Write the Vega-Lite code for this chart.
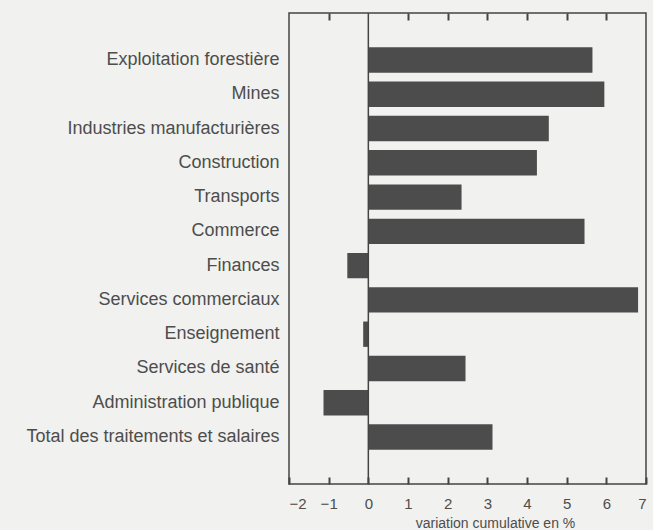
{
  "$schema": "https://vega.github.io/schema/vega-lite/v6.json",
  "width": 357,
  "height": 471,
  "autosize": {"type": "none"},
  "padding": {"left": 289, "top": 13, "right": 7, "bottom": 46},
  "background": "#f1f1ef",
  "config": {
    "view": {"stroke": "#444444", "strokeWidth": 1.5},
    "font": "Liberation Sans",
    "axis": {"labelColor": "#4d4d4d", "titleColor": "#4d4d4d", "grid": false, "domain": false}
  },
  "data": {
    "values": [
      {"secteur": "Exploitation forestière", "variation": 5.65},
      {"secteur": "Mines", "variation": 5.95},
      {"secteur": "Industries manufacturières", "variation": 4.55},
      {"secteur": "Construction", "variation": 4.25},
      {"secteur": "Transports", "variation": 2.35},
      {"secteur": "Commerce", "variation": 5.45},
      {"secteur": "Finances", "variation": -0.53},
      {"secteur": "Services commerciaux", "variation": 6.8},
      {"secteur": "Enseignement", "variation": -0.13},
      {"secteur": "Services de santé", "variation": 2.45},
      {"secteur": "Administration publique", "variation": -1.13},
      {"secteur": "Total des traitements et salaires", "variation": 3.13}
    ]
  },
  "resolve": {"axis": {"x": "independent"}},
  "layer": [
    {
      "mark": {"type": "bar", "color": "#4c4c4c"},
      "encoding": {
        "y": {
          "field": "secteur", "type": "nominal", "sort": null,
          "scale": {"paddingInner": 0.26, "paddingOuter": 1.14},
          "axis": {"title": null, "ticks": false, "labelPadding": 10, "labelLimit": 400, "labelFontSize": 18}
        },
        "x": {
          "field": "variation", "type": "quantitative",
          "scale": {"domain": [-2, 7], "nice": false, "zero": false},
          "axis": {
            "orient": "bottom", "zindex": 2, "offset": -7, "ticks": true,
            "values": [-2, -1, 0, 1, 2, 3, 4, 5, 6, 7],
            "tickSize": 7, "tickColor": "#444444", "tickWidth": 2,
            "labelPadding": 12, "labelFontSize": 15,
            "title": "variation cumulative en %", "titleFontSize": 14, "titleFontWeight": "normal",
            "titleX": 206, "titleY": 50, "titleBaseline": "alphabetic", "titleAnchor": "middle", "titleAlign": "center"
          }
        }
      }
    },
    {
      "mark": {"type": "rule", "color": "#444444", "strokeWidth": 1.5},
      "data": {"values": [{"zero": 0}]},
      "encoding": {
        "x": {
          "field": "zero", "type": "quantitative",
          "axis": {
            "orient": "top", "zindex": 2, "offset": -7, "ticks": true,
            "values": [-1, 1, 2, 3, 4, 5, 6],
            "tickSize": 7, "tickColor": "#444444", "tickWidth": 2,
            "labels": false, "title": null
          }
        }
      }
    }
  ]
}
